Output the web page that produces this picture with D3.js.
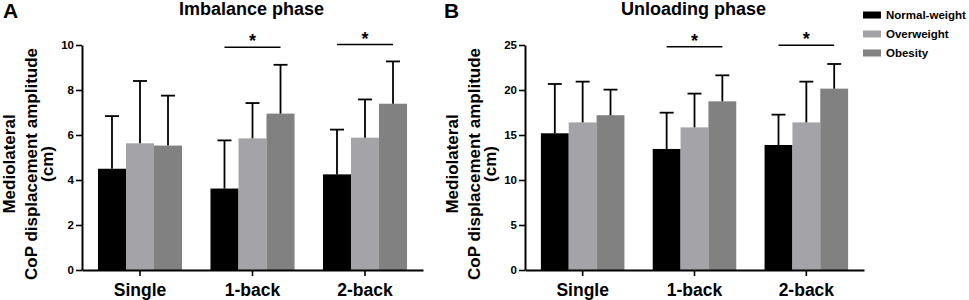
<!DOCTYPE html>
<html>
<head>
<meta charset="utf-8">
<script src="https://cdn.jsdelivr.net/npm/d3@7"></script>
<style>
  body { margin: 0; background: #fff; }
  svg { display: block; font-family: Arial, "Liberation Sans", Helvetica, sans-serif; font-weight: bold; }
</style>
</head>
<body>
<div id="chart"></div>
<script>
// categories and groups
const tasks = ["Single", "1-back", "2-back"];
const groups = ["Normal-weight", "Overweight", "Obesity"];
const groupColors = ["#000000", "#a4a4a8", "#818181"];

// Imbalance phase (means and SD, cm)
const imbNormal = [4.50, 3.62, 4.25];
const imbOver = [5.63, 5.85, 5.88];
const imbObese = [5.53, 6.95, 7.39];
const imbNormalSd = [2.34, 2.14, 1.99];
const imbOverSd = [2.77, 1.57, 1.70];
const imbObeseSd = [2.22, 2.17, 1.88];
const imbTicks = [0, 2, 4, 6, 8, 10];
// significance bars: task and height
const imbSig = [["1-back", 9.9], ["2-back", 10.02]];

// Unloading phase (means and SD, cm)
const unlNormal = [15.19, 13.45, 13.89];
const unlOver = [16.40, 15.85, 16.40];
const unlObese = [17.20, 18.74, 20.15];
const unlNormalSd = [5.48, 4.03, 3.37];
const unlOverSd = [4.53, 3.75, 4.53];
const unlObeseSd = [2.84, 2.89, 2.74];
const unlTicks = [0, 5, 10, 15, 20, 25];
const unlSig = [["1-back", 24.8], ["2-back", 24.98]];

const yTitle = ["Mediolateral", "CoP displacement amplitude", "(cm)"];

const width = 969, height = 300;
const svg = d3.select("#chart").append("svg")
    .attr("width", width)
    .attr("height", height);

function drawPanel(opt) {
    const g = svg.append("g");
    const top = 45, bottom = 270;

    const x = d3.scaleBand()
        .domain(tasks)
        .range([opt.left, opt.right])
        .paddingInner(0.253)
        .paddingOuter(0.142);

    const xs = d3.scaleBand()
        .domain(groups)
        .range([0, x.bandwidth()]);

    const y = d3.scaleLinear()
        .domain([0, opt.max])
        .range([bottom, top]);

    const color = d3.scaleOrdinal().domain(groups).range(groupColors);

    // flatten into records
    const rows = [];
    tasks.forEach((t, i) => {
        groups.forEach((s, j) => {
            rows.push({task: t, group: s, mean: opt.means[j][i], sd: opt.sds[j][i]});
        });
    });

    // Bars
    g.selectAll("rect.bar")
        .data(rows)
        .join("rect")
        .attr("class", "bar")
        .attr("x", d => x(d.task) + xs(d.group))
        .attr("y", d => y(d.mean))
        .attr("width", xs.bandwidth())
        .attr("height", d => y(0) - y(d.mean))
        .attr("fill", d => color(d.group));

    // Error bars (upper only)
    const capW = xs.bandwidth() / 2;
    const err = g.selectAll("g.err")
        .data(rows)
        .join("g")
        .attr("class", "err")
        .attr("transform", d => `translate(${x(d.task) + xs(d.group) + xs.bandwidth() / 2},0)`);

    err.append("line")
        .attr("y1", d => y(d.mean))
        .attr("y2", d => y(d.mean + d.sd))
        .attr("stroke", "#000")
        .attr("stroke-width", 1.8);

    err.append("line")
        .attr("x1", -capW / 2)
        .attr("x2", capW / 2)
        .attr("y1", d => y(d.mean + d.sd))
        .attr("y2", d => y(d.mean + d.sd))
        .attr("stroke", "#000")
        .attr("stroke-width", 1.8);

    // Significance lines
    const sig = g.selectAll("g.sig")
        .data(opt.sig)
        .join("g")
        .attr("class", "sig");

    sig.append("line")
        .attr("x1", d => x(d[0]) + xs(groups[0]) + xs.bandwidth() / 2)
        .attr("x2", d => x(d[0]) + xs(groups[2]) + xs.bandwidth() / 2)
        .attr("y1", d => y(d[1]))
        .attr("y2", d => y(d[1]))
        .attr("stroke", "#000")
        .attr("stroke-width", 1.5);

    sig.append("text")
        .attr("x", d => x(d[0]) + x.bandwidth() / 2)
        .attr("y", d => y(d[1]) + 0)
        .attr("text-anchor", "middle")
        .style("font-size", "18px")
        .text("*");

    // Y axis
    const yAxis = g.append("g")
        .attr("transform", `translate(${opt.left},0)`)
        .call(d3.axisLeft(y).tickValues(opt.ticks).tickSize(6).tickSizeOuter(0).tickPadding(2));

    yAxis.selectAll(".tick text").style("font-size", "11.5px").attr("fill", "#000");

    // X axis
    const xAxis = g.append("g")
        .attr("transform", `translate(0,${bottom})`)
        .call(d3.axisBottom(x).tickSize(6).tickSizeOuter(0).tickPadding(8));

    xAxis.selectAll(".tick text").style("font-size", "17.5px").attr("fill", "#000");

    g.selectAll(".domain").attr("stroke", "#000").attr("stroke-width", 2);
    g.selectAll(".tick line").attr("stroke", "#000").attr("stroke-width", 1.6);
    g.selectAll(".tick text").style("font-family", "Arial, 'Liberation Sans', sans-serif").style("font-weight", "bold");

    // Y axis title
    const titleX = [opt.left - 67, opt.left - 45, opt.left - 29];
    g.selectAll("text.ytitle")
        .data(yTitle)
        .join("text")
        .attr("class", "ytitle")
        .attr("text-anchor", "middle")
        .attr("transform", (d, i) => `translate(${titleX[i]},164) rotate(-90)`)
        .style("font-size", "17px")
        .text(d => d);

    // Panel title
    g.append("text")
        .attr("x", (opt.left + opt.right) / 2 - 1)
        .attr("y", 15)
        .attr("text-anchor", "middle")
        .style("font-size", "18px")
        .text(opt.title);

    // Panel letter
    g.append("text")
        .attr("x", opt.letterX)
        .attr("y", 18)
        .style("font-size", "21px")
        .text(opt.letter);
}

drawPanel({
    left: 82, right: 423, max: 10,
    means: [imbNormal, imbOver, imbObese],
    sds: [imbNormalSd, imbOverSd, imbObeseSd],
    ticks: imbTicks, sig: imbSig,
    title: "Imbalance phase", letter: "A", letterX: 3
});

drawPanel({
    left: 525, right: 864, max: 25,
    means: [unlNormal, unlOver, unlObese],
    sds: [unlNormalSd, unlOverSd, unlObeseSd],
    ticks: unlTicks, sig: unlSig,
    title: "Unloading phase", letter: "B", letterX: 444
});

// Legend
const legend = svg.append("g")
    .attr("transform", "translate(863,15)");

const item = legend.selectAll("g")
    .data(groups)
    .join("g")
    .attr("transform", (d, i) => `translate(0,${i * 19})`);

item.append("rect")
    .attr("y", -3.5)
    .attr("width", 18)
    .attr("height", 7)
    .attr("fill", (d, i) => groupColors[i]);

item.append("text")
    .attr("x", 23)
    .attr("dy", "0.35em")
    .style("font-size", "11.5px")
    .text(d => d);
</script>
</body>
</html>
